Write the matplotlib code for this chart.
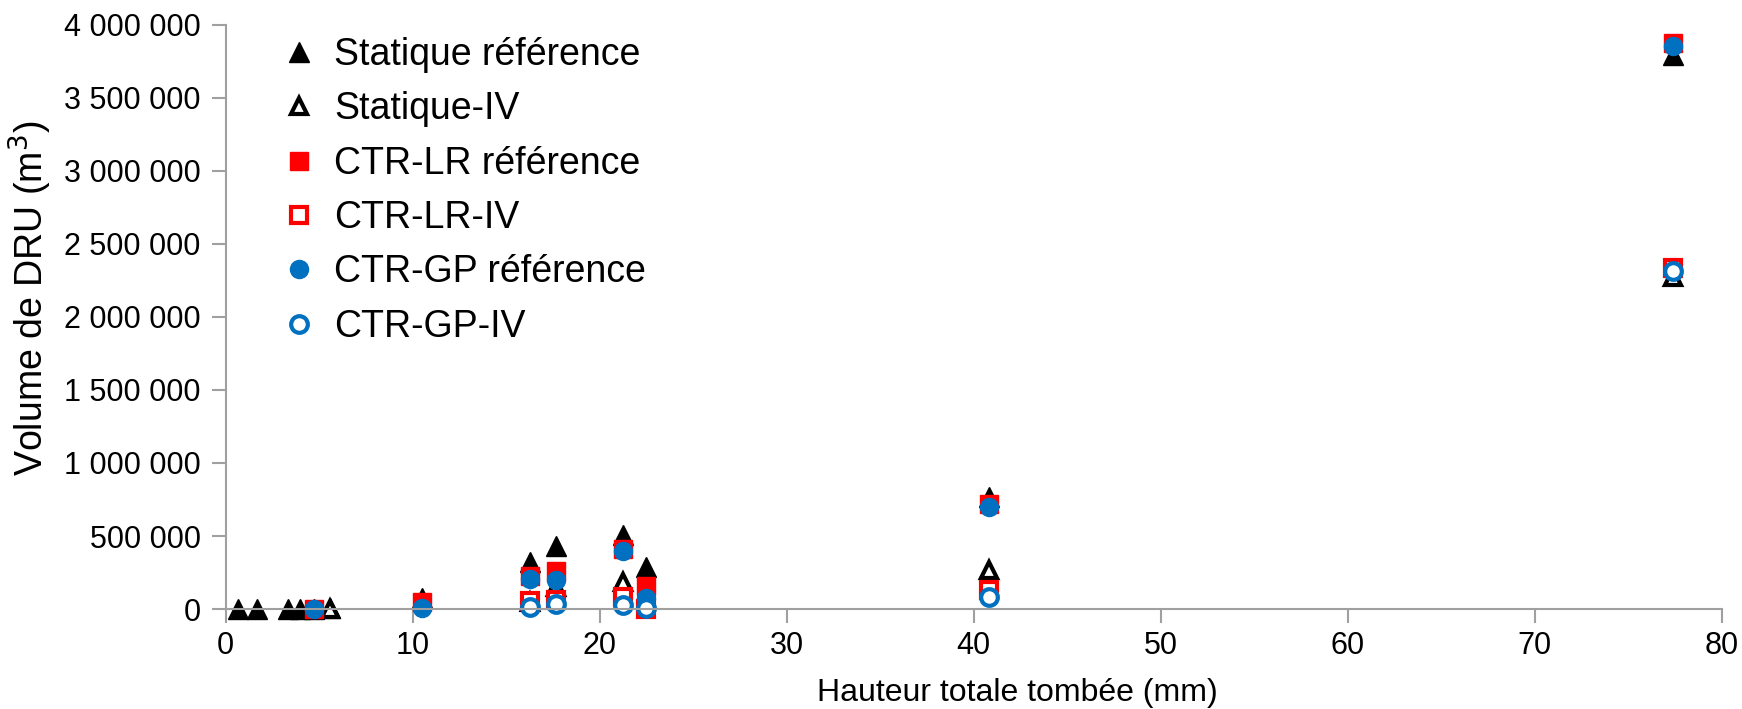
import matplotlib.pyplot as plt
from matplotlib.ticker import FuncFormatter

plt.rcParams['font.family'] = ['Liberation Sans', 'DejaVu Sans']

# hauteur totale tombée (mm) and DRU volume (m3) per series
x_stat = [0.68, 1.70, 3.35, 4.00, 4.74, 5.58, 10.49, 16.28, 17.67, 21.27, 22.48, 40.84, 77.36]
stat_ref = [0, 0, 0, 0, 0, 10000, 75000, 324000, 434000, 507000, 285000, 770000, 3790000]

x_stat_iv = [5.58, 16.28, 17.67, 21.27, 40.84, 77.36]
stat_iv = [0, 50000, 153000, 187000, 267000, 2276000]

x_ctr = [4.74, 10.49, 16.28, 17.67, 21.27, 22.48, 40.84, 77.36]
lr_ref = [0, 45000, 226000, 262000, 413000, 160000, 719000, 3875000]
gp_ref = [0, 5000, 203000, 199000, 400000, 73000, 700000, 3856000]

x_ctr_iv = [16.28, 17.67, 21.27, 22.48, 40.84, 77.36]
lr_iv = [57000, 60000, 84000, 0, 130000, 2333000]
gp_iv = [16000, 34000, 27000, 5000, 84000, 2317000]

grey = '#a0a0a0'
blue = '#0070c0'

fig = plt.figure(figsize=(17.42, 7.09), dpi=100)
ax = fig.add_axes([0.1295, 0.141, 0.859, 0.824])

ms = 14
ax.plot(x_stat, stat_ref, '^', color='black', ms=ms, label='Statique référence', clip_on=False)
ax.plot(x_stat_iv, stat_iv, '^', mfc='white', mec='black', mew=3, ms=ms - 2, label='Statique-IV', clip_on=False)
ax.plot(x_ctr, lr_ref, 's', color='red', ms=ms - 1, label='CTR-LR référence', clip_on=False)
ax.plot(x_ctr_iv, lr_iv, 's', mfc='white', mec='red', mew=3, ms=ms - 2, label='CTR-LR-IV', clip_on=False)
ax.plot(x_ctr, gp_ref, 'o', color=blue, ms=ms - 1, label='CTR-GP référence', clip_on=False)
ax.plot(x_ctr_iv, gp_iv, 'o', mfc='white', mec=blue, mew=3, ms=ms - 2, label='CTR-GP-IV', clip_on=False)

ax.set_xlim(0, 80)
ax.set_ylim(0, 4000000)
ax.set_xticks(range(0, 81, 10))
ax.set_yticks(range(0, 4000001, 500000))
ax.yaxis.set_major_formatter(FuncFormatter(lambda v, p: f'{int(v):,}'.replace(',', ' ')))

for s in ['top', 'right']:
    ax.spines[s].set_visible(False)
for s in ['left', 'bottom']:
    ax.spines[s].set_color(grey)
    ax.spines[s].set_linewidth(1.5)
ax.tick_params(axis='both', colors=grey, labelcolor='black', labelsize=22,
               length=10, width=1.5, direction='out')
ax.tick_params(axis='x', pad=6)
ax.tick_params(axis='y', pad=8)

ax.set_xlabel('Hauteur totale tombée (mm)', fontsize=23)
ax.set_ylabel('Volume de DRU (m$^3$)', fontsize=27)
ax.xaxis.set_label_coords(0.529, -0.118)
ax.yaxis.set_label_coords(-0.115, 0.532)

ax.legend(loc='upper left', bbox_to_anchor=(0.150, 0.969), bbox_transform=fig.transFigure,
          frameon=False, fontsize=27, handletextpad=0.35, labelspacing=0.49,
          handlelength=1.2, borderaxespad=0)

fig.savefig('out.png', dpi=100)
